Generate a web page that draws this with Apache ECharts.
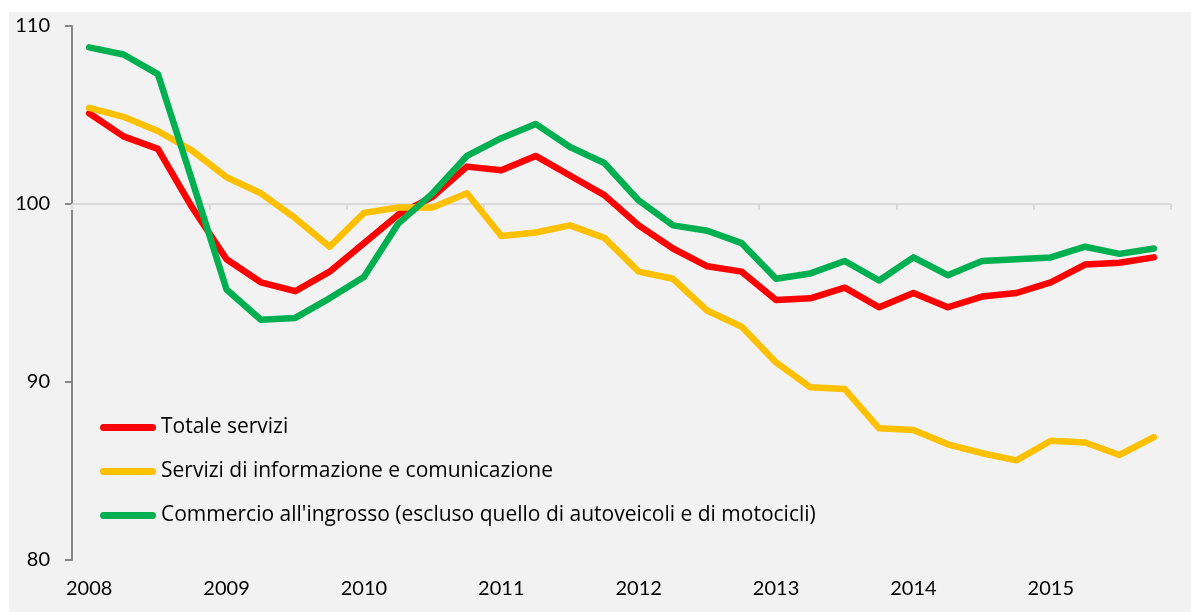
<!DOCTYPE html>
<html>
<head>
<meta charset="utf-8">
<script src="https://cdn.jsdelivr.net/npm/echarts@6/dist/echarts.min.js"></script>
<style>
  html, body { margin: 0; padding: 0; background: #ffffff; }
  #chart { width: 1191px; height: 612px; }
</style>
</head>
<body>
<div id="chart"></div>
<script>
// Quarterly categories 2008 T1 .. 2015 T4
const categories = [
  '2008 T1','2008 T2','2008 T3','2008 T4',
  '2009 T1','2009 T2','2009 T3','2009 T4',
  '2010 T1','2010 T2','2010 T3','2010 T4',
  '2011 T1','2011 T2','2011 T3','2011 T4',
  '2012 T1','2012 T2','2012 T3','2012 T4',
  '2013 T1','2013 T2','2013 T3','2013 T4',
  '2014 T1','2014 T2','2014 T3','2014 T4',
  '2015 T1','2015 T2','2015 T3','2015 T4'
];
const yTicks = [80, 90, 100, 110];

const seriesNames = [
  'Totale servizi',
  'Servizi di informazione e comunicazione',
  "Commercio all'ingrosso (escluso quello di autoveicoli e di motocicli)"
];

const totaleServizi = [
  105.1, 103.8, 103.1, 99.8, 96.9, 95.6, 95.1, 96.2,
  97.8, 99.4, 100.4, 102.1, 101.9, 102.7, 101.6, 100.5,
  98.8, 97.5, 96.5, 96.2, 94.6, 94.7, 95.3, 94.2,
  95.0, 94.2, 94.8, 95.0, 95.6, 96.6, 96.7, 97.0
];
const informazioneComunicazione = [
  105.4, 104.9, 104.1, 103.0, 101.5, 100.6, 99.2, 97.6,
  99.5, 99.8, 99.8, 100.6, 98.2, 98.4, 98.8, 98.1,
  96.2, 95.8, 94.0, 93.1, 91.1, 89.7, 89.6, 87.4,
  87.3, 86.5, 86.0, 85.6, 86.7, 86.6, 85.9, 86.9
];
const commercioIngrosso = [
  108.8, 108.4, 107.3, 101.3, 95.2, 93.5, 93.6, 94.7,
  95.9, 98.9, 100.6, 102.7, 103.7, 104.5, 103.2, 102.3,
  100.2, 98.8, 98.5, 97.8, 95.8, 96.1, 96.8, 95.7,
  97.0, 96.0, 96.8, 96.9, 97.0, 97.6, 97.2, 97.5
];

const colors = ['#ff0000', '#ffc000', '#00b050'];
const values = [totaleServizi, informazioneComunicazione, commercioIngrosso];

const FONT = 'Lato';
const LEGEND_FONT = 'Open Sans';
const PILL = 'path://M3.5,0 L52.5,0 A3.5,3.5 0 0 1 52.5,7 L3.5,7 A3.5,3.5 0 0 1 3.5,0 Z';
const chart = echarts.init(document.getElementById('chart'), null, { renderer: 'canvas' });

const option = {
  animation: false,
  backgroundColor: '#ffffff',
  textStyle: { fontFamily: FONT },
  graphic: [{
    type: 'rect',
    z: -10,
    shape: { x: 9, y: 12, width: 1182, height: 600 },
    style: { fill: '#f2f2f2' },
    silent: true
  }],
  grid: { left: 72, right: 20, top: 26, bottom: 52, containLabel: false },
  legend: {
    show: true,
    orient: 'vertical',
    left: 100,
    top: 417,
    padding: 0,
    icon: PILL,
    itemWidth: 56,
    itemHeight: 7,
    itemGap: 23,
    itemTextGap: 4,
    textStyle: { fontFamily: LEGEND_FONT, fontSize: 21, color: '#000000' },
    data: seriesNames
  },
  xAxis: [{
    type: 'category',
    data: categories,
    boundaryGap: true,
    position: 'bottom',
    axisLine: { show: false },
    axisTick: { show: false },
    axisLabel: {
      interval: 3,
      margin: 19,
      fontFamily: FONT,
      fontSize: 20,
      color: '#000000',
      formatter: v => v.slice(0, 4)
    },
    splitLine: { show: false }
  }, {
    type: 'category',
    data: categories,
    boundaryGap: true,
    position: 'bottom',
    offset: -356,
    axisLine: { show: true, lineStyle: { color: '#d9d9d9', width: 2 } },
    axisTick: { show: true, interval: 3, length: 6, lineStyle: { color: '#d9d9d9', width: 2 } },
    axisLabel: { show: false },
    splitLine: { show: false }
  }],
  yAxis: {
    type: 'value',
    min: yTicks[0],
    max: yTicks[yTicks.length - 1],
    interval: 10,
    axisLine: { show: true, lineStyle: { color: '#868686', width: 2 } },
    axisTick: { show: true, length: 7, lineStyle: { color: '#868686', width: 2 } },
    axisLabel: { margin: 22, fontFamily: FONT, fontSize: 20, color: '#000000' },
    splitLine: { show: false }
  },
  series: seriesNames.map((name, i) => ({
    name: name,
    type: 'line',
    xAxisIndex: 0,
    data: values[i],
    symbol: 'none',
    showSymbol: false,
    smooth: false,
    z: 3 + i,
    itemStyle: { color: colors[i] },
    lineStyle: { color: colors[i], width: 6.5, cap: 'round', join: 'round' }
  }))
};

chart.setOption(option);
</script>
</body>
</html>
